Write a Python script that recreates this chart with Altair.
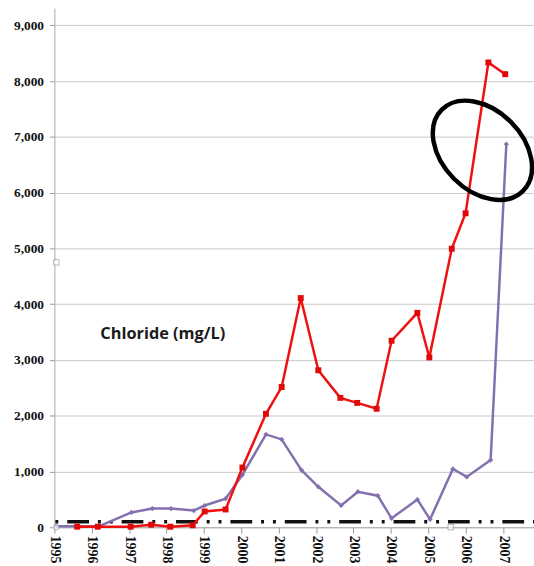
import altair as alt
import pandas as pd

# Chloride concentration (mg/L) by sampling date (decimal year)
red_years = [1995.61, 1996.16, 1997.04, 1997.59, 1998.10, 1998.70, 1999.02, 1999.58,
             2000.03, 2000.66, 2001.08, 2001.59, 2002.06, 2002.65, 2003.10, 2003.62,
             2004.02, 2004.71, 2005.03, 2005.63, 2006.00, 2006.61, 2007.06]
red_values = [10, 10, 10, 45, 10, 35, 283, 319,
              1070, 2035, 2515, 4110, 2815, 2320, 2230, 2125,
              3345, 3845, 3045, 4995, 5630, 8335, 8125]

purple_years = [1995.05, 1996.20, 1997.06, 1997.62, 1998.12, 1998.73, 1999.02, 1999.58,
                2000.03, 2000.66, 2001.08, 2001.61, 2002.06, 2002.67, 2003.12, 2003.65,
                2004.02, 2004.71, 2005.05, 2005.66, 2006.03, 2006.67, 2007.09]
purple_values = [20, 20, 265, 336, 336, 300, 390, 513,
                 940, 1665, 1575, 1025, 725, 390, 637, 566,
                 160, 496, 142, 1045, 903, 1205, 6870]

# Reference level drawn as a dash-dot-dot line
standard_value = 100
standard_span = [1995.0, 2007.83]

# Sparse hollow markers of a third series
hollow_years = [1995.05, 1995.05, 2005.60]
hollow_values = [0, 4750, 0]
hollow_shapes = ["circle", "square", "square"]

year_ticks = list(range(1995, 2008))
value_ticks = list(range(0, 10000, 1000))

label_text = ["Chloride (mg/L)"]
label_pos = [(1997.9, 3460)]

ellipse_pos = [(2006.45, 6760)]

red_df = pd.DataFrame({"year": red_years, "value": red_values})
purple_df = pd.DataFrame({"year": purple_years, "value": purple_values})
std_df = pd.DataFrame({"year": standard_span, "value": [standard_value] * 2})
hollow_df = pd.DataFrame({"year": hollow_years, "value": hollow_values, "shape": hollow_shapes})
label_df = pd.DataFrame({"year": [p[0] for p in label_pos],
                         "value": [p[1] for p in label_pos],
                         "text": label_text})
ellipse_df = pd.DataFrame({"year": [p[0] for p in ellipse_pos],
                           "value": [p[1] for p in ellipse_pos]})

x_scale = alt.Scale(domain=[1995, 2007.83], nice=False, zero=False)
y_scale = alt.Scale(domain=[0, 9310], nice=False)

axis_font = "Liberation Serif"
x_enc = alt.X("year:Q", scale=x_scale, title=None,
              axis=alt.Axis(values=year_ticks, format="d", labelAngle=90,
                            labelFont=axis_font, labelFontWeight="bold", labelFontSize=14,
                            labelColor="#111", labelPadding=2, tickSize=6,
                            tickColor="#999", domainColor="#aaa", grid=False,
                            labelOverlap=False, labelFlush=False))
y_enc = alt.Y("value:Q", scale=y_scale, title=None,
              axis=alt.Axis(values=value_ticks, format=",.0f",
                            labelFont=axis_font, labelFontWeight="bold", labelFontSize=13.5,
                            labelColor="#111", labelPadding=6, tickSize=5,
                            tickColor="#999", domainColor="#aaa",
                            grid=True, gridColor="#c8c8c8", gridWidth=1,
                            labelOverlap=False))

base_x = alt.X("year:Q", scale=x_scale)
base_y = alt.Y("value:Q", scale=y_scale)

grid_layer = alt.Chart(red_df).mark_point(opacity=0).encode(x=x_enc, y=y_enc)

std_line = alt.Chart(std_df).mark_line(
    color="#111", strokeWidth=3.5, strokeDash=[22, 9, 3, 9, 3, 9], strokeDashOffset=42
).encode(x=base_x, y=base_y)

purple_line = alt.Chart(purple_df).mark_line(
    color="#8470b0", strokeWidth=2.5,
    point=alt.OverlayMarkDef(shape="diamond", size=28, color="#8470b0", filled=True)
).encode(x=base_x, y=base_y)

red_line = alt.Chart(red_df).mark_line(
    color="#f01010", strokeWidth=2.5,
    point=alt.OverlayMarkDef(shape="square", size=36, color="#e00808", filled=True)
).encode(x=base_x, y=base_y)

hollow = alt.Chart(hollow_df).mark_point(
    filled=True, fill="white", stroke="#9a9a9a", strokeWidth=1, size=30
).encode(x=base_x, y=base_y,
         shape=alt.Shape("shape:N", scale=None, legend=None))

label = alt.Chart(label_df).mark_text(
    font="Open Sans", fontWeight="bold", fontSize=16.5, color="#1a1a1a"
).encode(x=base_x, y=base_y, text="text:N")

ellipse = alt.Chart(ellipse_df).mark_point(
    shape="M -1 0 A 1 0.7 0 1 1 1 0 A 1 0.7 0 1 1 -1 0 Z",
    filled=False, stroke="black", strokeWidth=4.5, size=13500, angle=45, opacity=1
).encode(x=base_x, y=base_y)

chart = alt.layer(
    grid_layer, std_line, purple_line, red_line, hollow, label, ellipse
).properties(
    width=485, height=525,
    autosize=alt.AutoSizeParams(type="none"),
    padding={"left": 55, "top": 5, "right": 0, "bottom": 36},
    background="white",
).configure_view(stroke=None)

chart.save("out.html", embed_options={"renderer": "svg", "actions": False})
